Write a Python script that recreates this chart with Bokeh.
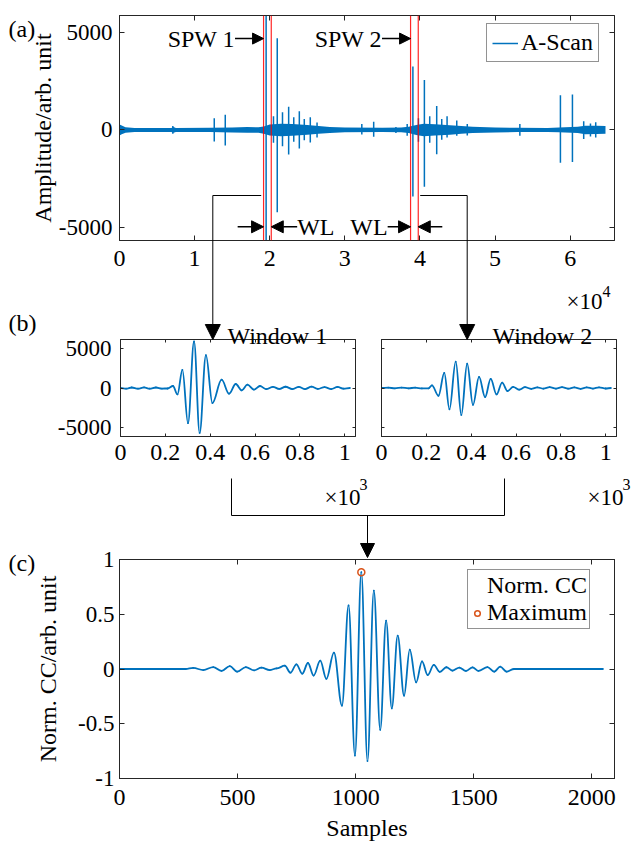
import numpy as np
from bokeh.plotting import figure
from bokeh.layouts import row, column
from bokeh.models import (Range1d, FixedTicker, LinearAxis, Label, Arrow, NormalHead,
                          Legend, LegendItem, Span, GridBox)
from bokeh.embed import file_html
from bokeh.resources import INLINE

# ------------------------------------------------------------------ data
# (a) A-scan: noise band envelope + individual echoes (spikes)
ascan_xlim = [0, 65900]
band_x = [0, 300, 800, 2000, 6900, 7200, 7500, 12000, 15000, 17000, 18500, 19200,
          20000, 21500, 23000, 25000, 26500, 28000, 30000, 35000, 37500, 38500,
          39500, 40500, 42000, 44000, 45500, 47000, 50000, 53000, 57000, 58500,
          61000, 62000, 63500, 64700]
band_hi = [280, 230, 140, 100, 100, 150, 100, 110, 130, 150, 140, 180,
           280, 320, 300, 250, 200, 150, 120, 110, 120, 160,
           250, 320, 290, 240, 200, 160, 130, 110, 100, 120,
           160, 220, 220, 200]
band_lo = [-280, -220, -140, -100, -100, -140, -100, -110, -130, -140, -140, -190,
           -280, -320, -290, -250, -200, -150, -120, -110, -120, -160,
           -260, -320, -280, -240, -200, -160, -130, -110, -100, -120,
           -160, -220, -210, -200]
spike_x = [7100, 12615, 14080, 19520, 20500, 21000, 21700, 22520, 23200, 23940, 24600,
           25400, 26300, 32260, 33840, 36800, 38300, 39060, 39800, 40590, 41300, 42230,
           42900, 43610, 44900, 46300, 53300, 58700, 60300, 61800, 62700, 63400]
spike_top = [200, 600, 780, 5850, 700, 4690, 900, 1190, 650, 960, 560,
             650, 380, 300, 420, 150, 300, 3240, 600, 2550, 700, 1230,
             560, 700, 480, 300, 300, 1780, 1810, 450, 330, 400]
spike_bot = [-200, -590, -790, -5650, -650, -4200, -830, -1250, -600, -950, -520,
             -640, -380, -230, -350, -150, -300, -3400, -600, -2900, -650, -1240,
             -500, -380, -290, -280, -290, -1670, -1640, -465, -330, -380]
window_start = [19180, 38750]
window_len = 1024
window_names = ["SPW 1", "SPW 2"]
a_xticks = [0, 10000, 20000, 30000, 40000, 50000, 60000]
a_xticklabels = ["0", "1", "2", "3", "4", "5", "6"]
a_yticks = [-5000, 0, 5000]
a_yticklabels = ["-5000", "0", "5000"]

# (b) windows (local extrema of the windowed signals)
b_xlim = [0, 1048]
b_ylim = [-6100, 6100]
w1_x = [0, 25, 50, 78, 105, 130, 158, 185, 210, 234, 254, 276, 301, 328, 353, 381, 410,
        451, 484, 514, 541, 566, 595, 622, 650, 680, 708, 736, 766, 795, 823, 852, 880,
        910, 940, 968, 995, 1023]
w1_y = [0, -80, 60, -90, 70, -80, 60, -70, -60, 250, -800, 2290, -4430, 5860, -5650, 4140,
        -1890, 1050, -714, 504, -294, 420, -200, 250, -150, 150, -120, 160, -130, 150, -140,
        170, -120, 110, -130, 130, -80, 0]
w2_x = [0, 30, 60, 90, 120, 150, 180, 210, 225, 254, 280, 303, 331, 356, 382, 408, 435,
        462, 487, 513, 538, 562, 587, 614, 640, 668, 695, 722, 750, 778, 805, 832, 860,
        888, 915, 943, 970, 1000, 1023]
w2_y = [0, 40, -40, 50, -40, 40, -50, -40, 340, -975, 1907, -2670, 3305, -3390, 3050,
        -2120, 1400, -1145, 1145, -805, 680, -380, 130, -210, 110, -100, 90, -90, 100, -80,
        100, -90, 80, -100, 90, -70, 80, -60, 0]
b_xticks = [0, 200, 400, 600, 800, 1000]
b_xticklabels = ["0", "0.2", "0.4", "0.6", "0.8", "1"]
b_yticks = [-5000, 0, 5000]
b_yticklabels = ["-5000", "0", "5000"]

# (c) normalised cross-correlation (local extrema)
c_xlim = [0, 2096]
c_ylim = [-1, 1]
cc_x = [0, 280, 312, 355, 397, 432, 467, 498, 535, 570, 601, 636, 665, 700, 724, 749, 774,
        798, 822, 850, 876, 908, 942, 970, 997, 1024, 1050, 1077, 1104, 1129, 1153, 1178,
        1205, 1229, 1256, 1281, 1305, 1331, 1356, 1384, 1410, 1439, 1467, 1495, 1520, 1558,
        1587, 1612, 1639, 1671, 2047]
cc_y = [0, 0, 0.010, -0.010, 0.018, -0.018, 0.027, -0.024, 0.018, -0.012, 0.012, -0.010,
        0.005, 0.030, -0.034, 0.043, -0.043, 0.055, -0.060, 0.076, -0.090, 0.150, -0.335,
        0.580, -0.790, 0.884, -0.840, 0.716, -0.555, 0.442, -0.360, 0.305, -0.244, 0.177,
        -0.122, 0.070, -0.055, 0.037, -0.026, 0.016, -0.015, 0.013, -0.018, 0.015, -0.018,
        0.018, -0.024, 0.021, -0.024, 0.0, 0.0]
cc_max_x = [1024]
cc_max_y = [0.884]
c_xticks = [0, 500, 1000, 1500, 2000]
c_xticklabels = ["0", "500", "1000", "1500", "2000"]
c_yticks = [-1, -0.5, 0, 0.5, 1]
c_yticklabels = ["-1", "-0.5", "0", "0.5", "1"]

# ------------------------------------------------------------------ style
FONT = "Liberation Serif"
BLUE = "#0072BD"
ORANGE = "#D95319"
RED = "#FF0000"
AX = "#262626"
XTICK_FS = "24px"
YTICK_FS = "23px"
LAB_FS = "24px"
TXT_FS = "24px"
W, H = 631, 843


def base_fig(width, height, xr, yr, mb):
    p = figure(width=width, height=height, x_range=Range1d(*xr), y_range=Range1d(*yr),
               output_backend="svg", toolbar_location=None, title=None,
               min_border_left=mb[0], min_border_right=mb[1],
               min_border_top=mb[2], min_border_bottom=mb[3])
    p.grid.visible = False
    p.outline_line_color = AX
    p.outline_line_width = 1
    p.background_fill_color = "white"
    p.border_fill_color = "white"
    return p


def style_axis(ax, ticks, labels, tick_len, standoff, fs, show=True):
    ax.ticker = FixedTicker(ticks=ticks)
    ax.major_label_overrides = {t: (l if show else "") for t, l in zip(ticks, labels)}
    ax.major_tick_in = tick_len
    ax.major_tick_out = 0
    ax.minor_tick_line_color = None
    ax.axis_line_color = AX
    ax.major_tick_line_color = AX
    ax.major_label_text_font = FONT
    ax.major_label_text_color = "black"
    ax.major_label_text_font_size = fs if show else "0px"
    ax.major_label_standoff = standoff if show else 0
    ax.axis_label_text_font = FONT
    ax.axis_label_text_font_style = "normal"
    ax.axis_label_text_font_size = LAB_FS
    ax.axis_label_text_color = "black"


def add_mirror(p, xticks, yticks, tick_len):
    top = LinearAxis()
    style_axis(top, xticks, ["" for _ in xticks], tick_len, 0, "0px", show=False)
    p.add_layout(top, "above")
    right = LinearAxis()
    style_axis(right, yticks, ["" for _ in yticks], tick_len, 0, "0px", show=False)
    p.add_layout(right, "right")


def add_wave(p, xs, ys, **kw):
    x0 = np.array(xs[:-1], float); x1 = np.array(xs[1:], float)
    y0 = np.array(ys[:-1], float); y1 = np.array(ys[1:], float)
    d = (x1 - x0) * 0.3642
    return p.bezier(x0=x0, y0=y0, x1=x1, y1=y1, cx0=x0 + d, cy0=y0, cx1=x1 - d, cy1=y1,
                    line_cap="round", **kw)


def txt(p, text, x, y, size=TXT_FS, align="left", baseline="alphabetic"):
    p.add_layout(Label(x=x, y=y, text=text, text_font=FONT, text_font_size=size,
                       text_color="black", text_align=align, text_baseline=baseline))


def head(size):
    return NormalHead(size=size, fill_color="black", line_color="black", line_width=1)


def arrow(p, x0, y0, x1, y1, size, width=1.5):
    p.add_layout(Arrow(end=head(size), x_start=x0, y_start=y0, x_end=x1, y_end=y1,
                       line_color="black", line_width=width))


def style_legend(leg, pad, gw, st, fs):
    leg.label_text_font = FONT
    leg.label_text_font_size = fs
    leg.label_text_color = "black"
    leg.border_line_color = AX
    leg.border_line_width = 1
    leg.background_fill_color = "white"
    leg.background_fill_alpha = 1
    leg.padding = pad
    leg.spacing = 0
    leg.margin = 0
    leg.glyph_width = gw
    leg.glyph_height = 16
    leg.label_standoff = st
    leg.label_height = 16


# ------------------------------------------------------------------ panel (a)
pa = base_fig(W, 300, ascan_xlim, (min(spike_bot), max(spike_top)), (119, 17, 15, 60))
style_axis(pa.xaxis[0], a_xticks, a_xticklabels, 5, 10, XTICK_FS)
style_axis(pa.yaxis[0], a_yticks, a_yticklabels, 5, 7, YTICK_FS)
pa.yaxis[0].axis_label = "Amplitude/arb. unit"
pa.yaxis[0].axis_label_standoff = 0
add_mirror(pa, a_xticks, a_yticks, 5)

pa.varea(x=band_x, y1=band_lo, y2=band_hi, fill_color=BLUE)
spk = pa.segment(x0=spike_x, y0=spike_bot, x1=spike_x, y1=spike_top,
                 line_color=BLUE, line_width=1.5)

for ws in window_start:
    for edge in (ws, ws + window_len):
        pa.add_layout(Span(location=edge, dimension="height", line_color=RED,
                           line_width=1.2, line_alpha=0.85))

spw_y, wl_y = 4670, -4950
spw_len, wl_len = 3800, 3450
for ws, name in zip(window_start, window_names):
    arrow(pa, ws - spw_len, spw_y, ws, spw_y, 11)
    txt(pa, name, ws - spw_len, spw_y, align="right", baseline="middle")
ws1, ws2 = window_start
arrow(pa, ws1 - wl_len, wl_y, ws1, wl_y, 12)
arrow(pa, ws1 + window_len + wl_len, wl_y, ws1 + window_len, wl_y, 12)
txt(pa, "WL", ws1 + window_len + wl_len, wl_y, align="left", baseline="middle")
arrow(pa, ws2 - 3050, wl_y, ws2, wl_y, 12)
txt(pa, "WL", ws2 - 3050, wl_y, align="right", baseline="middle")
arrow(pa, ws2 + window_len + 3200, wl_y, ws2 + window_len, wl_y, 12)

leg_a = Legend(items=[LegendItem(label="A-Scan", renderers=[spk])], location=(367, 178))
style_legend(leg_a, 5, 26, 3, TXT_FS)
pa.add_layout(leg_a)

# ------------------------------------------------------------------ panel (b)
pb1 = base_fig(368, 230, b_xlim, b_ylim, (120, 13, 39, 94))
style_axis(pb1.xaxis[0], b_xticks, b_xticklabels, 3, 8, XTICK_FS)
style_axis(pb1.yaxis[0], b_yticks, b_yticklabels, 3, 9, YTICK_FS)
add_mirror(pb1, b_xticks, b_yticks, 3)
add_wave(pb1, w1_x, w1_y, line_color=BLUE, line_width=1.8)

pb2 = base_fig(W - 368, 230, b_xlim, b_ylim, (13, 15, 39, 94))
style_axis(pb2.xaxis[0], b_xticks, b_xticklabels, 3, 8, XTICK_FS)
style_axis(pb2.yaxis[0], b_yticks, b_yticklabels, 3, 0, YTICK_FS, show=False)
add_mirror(pb2, b_xticks, b_yticks, 3)
add_wave(pb2, w2_x, w2_y, line_color=BLUE, line_width=1.8)

# ------------------------------------------------------------------ panel (c)
pc = base_fig(W, 313, c_xlim, c_ylim, (119, 15, 29, 65))
style_axis(pc.xaxis[0], c_xticks, c_xticklabels, 5, 11, XTICK_FS)
style_axis(pc.yaxis[0], c_yticks, c_yticklabels, 5, 5, YTICK_FS)
pc.xaxis[0].axis_label = "Samples"
pc.xaxis[0].axis_label_standoff = 7
pc.yaxis[0].axis_label = "Norm. CC/arb. unit"
pc.yaxis[0].axis_label_standoff = 14
add_mirror(pc, c_xticks, c_yticks, 5)

add_wave(pc, cc_x, cc_y, line_color=BLUE, line_width=1.8)
mx = pc.scatter(cc_max_x, cc_max_y, marker="circle", size=7, fill_color=None,
                line_color=ORANGE, line_width=1.5)

leg_c = Legend(items=[LegendItem(label="Norm. CC", renderers=[]),
                      LegendItem(label="Maximum", renderers=[mx])],
               location=(348, 149))
style_legend(leg_c, 2, 14, 3, TXT_FS)
pc.add_layout(leg_c)

# ------------------------------------------------------------------ overlay (connectors, captions)
ov = figure(width=W, height=H, x_range=Range1d(0, W), y_range=Range1d(H, 0),
            output_backend="svg", toolbar_location=None, title=None,
            x_axis_type=None, y_axis_type=None, min_border=0)
ov.grid.visible = False
ov.outline_line_color = None
ov.background_fill_color = None
ov.border_fill_color = None

# connector paths in page pixels: (x0, y0, x1, y1)
conn = [(212.3, 195, 260.7, 195), (419.7, 195, 466.7, 195),
        (231, 478, 231, 515), (504, 478, 504, 515), (231, 515, 504, 515)]
ov.segment(x0=[c[0] for c in conn], y0=[c[1] for c in conn],
           x1=[c[2] for c in conn], y1=[c[3] for c in conn],
           line_color="black", line_width=1)
# arrows: (x, y_from, y_tip, head size)
for x, y0, y1, s in [(212.3, 195, 339, 15), (466.7, 195, 339, 15), (367, 515, 557, 14)]:
    arrow(ov, x, y0, x, y1, s, width=1)

txt(ov, "(a)", 8, 28)
txt(ov, "(b)", 8, 322)
txt(ov, "(c)", 8, 562)
txt(ov, "Window 1", 227, 335)
txt(ov, "Window 2", 492, 335)
txt(ov, "\u00d710", 566, 301, size="23px")
txt(ov, "4", 602, 291, size="16px")
txt(ov, "\u00d710", 324, 497, size="23px")
txt(ov, "3", 359, 484, size="16px")
txt(ov, "\u00d710", 587, 497, size="23px")
txt(ov, "3", 622, 484, size="16px")

panels = column(pa, row(pb1, pb2), pc)
layout = GridBox(children=[(panels, 0, 0), (ov, 0, 0)])
open("out.html", "w").write(file_html(layout, INLINE))
